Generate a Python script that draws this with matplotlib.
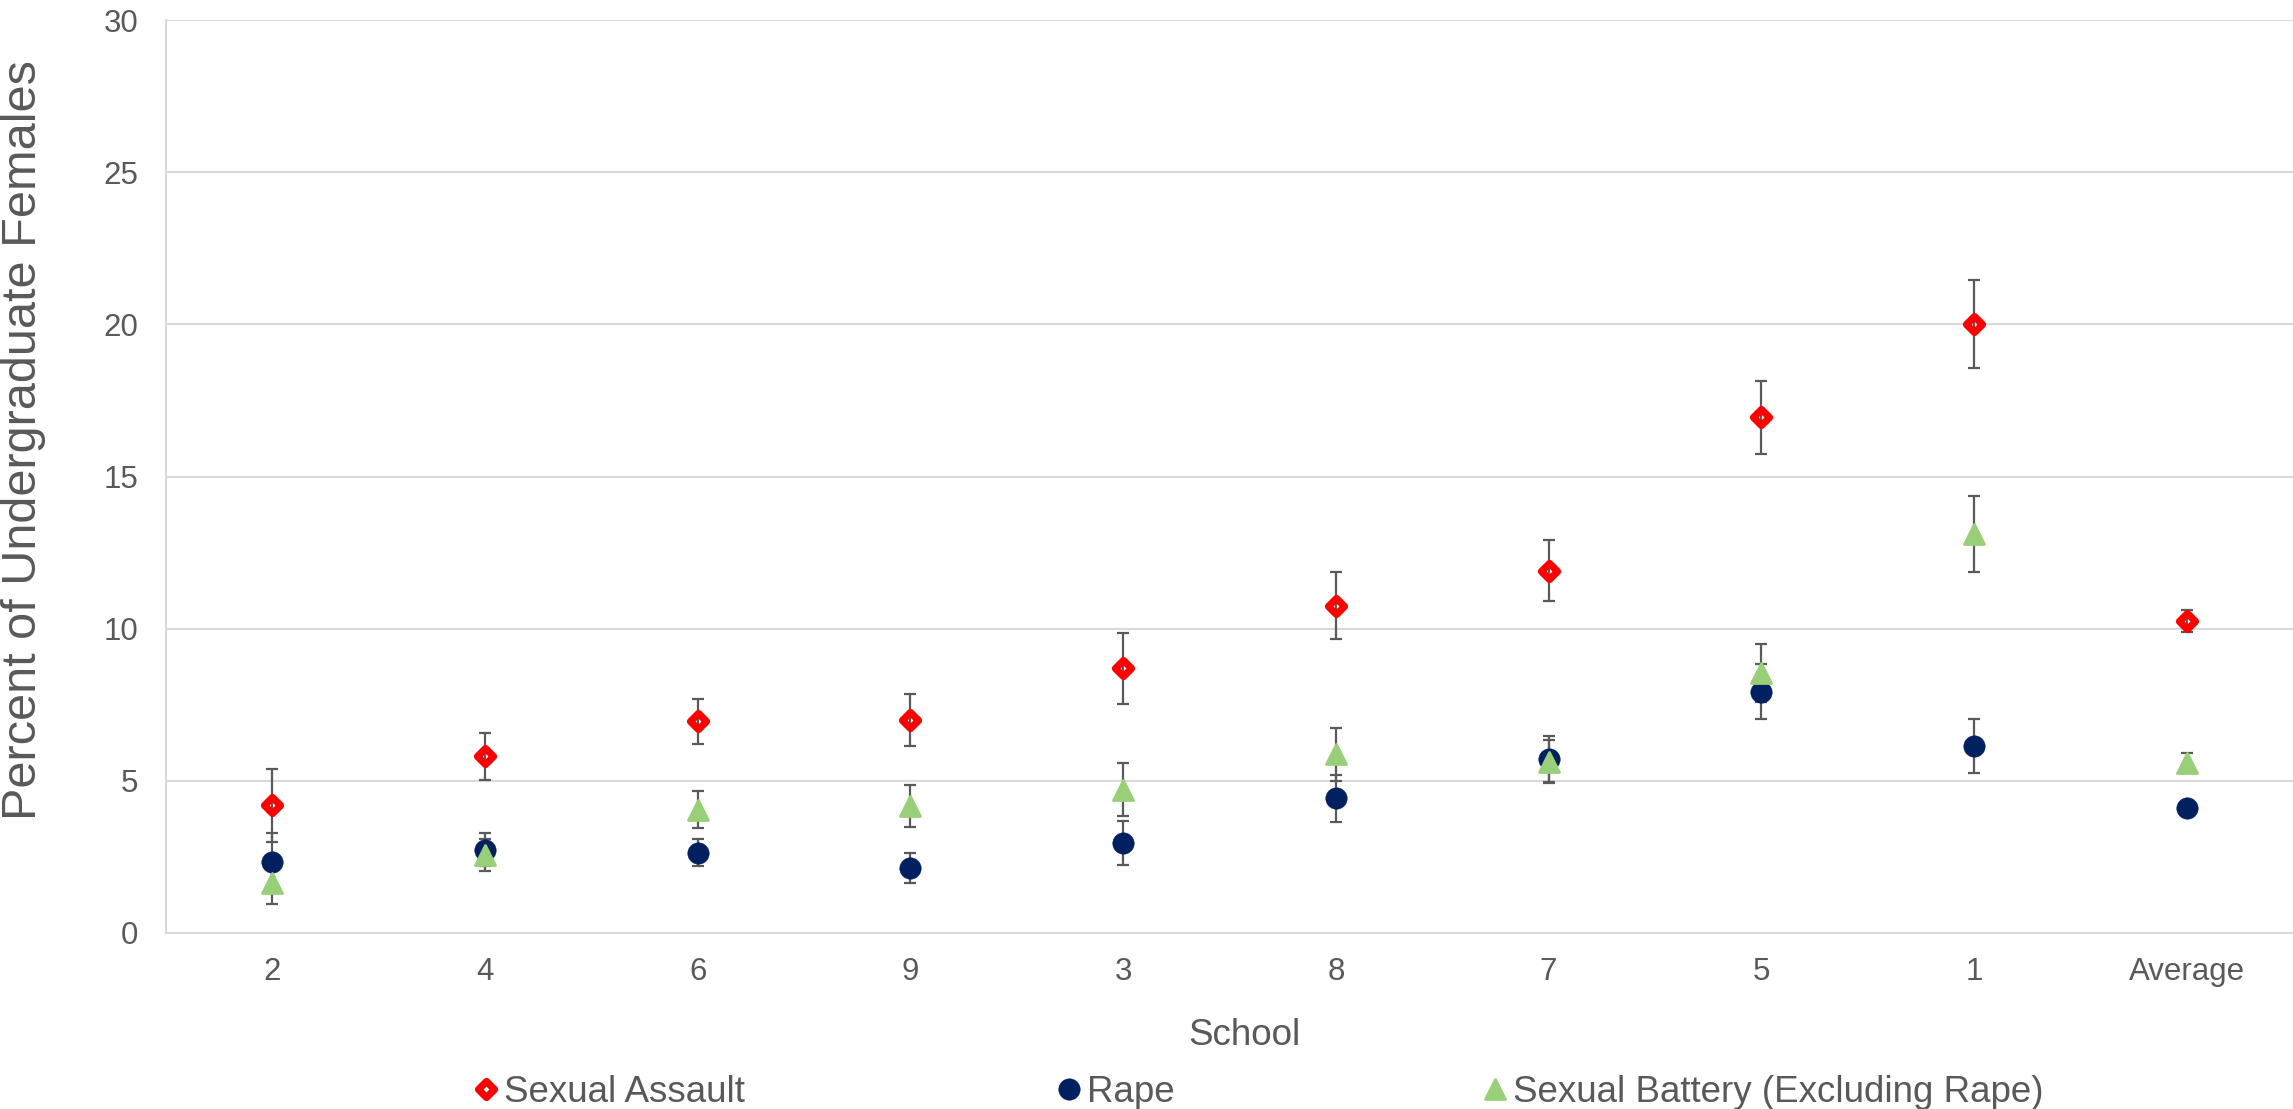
import matplotlib
matplotlib.use("Agg")
import matplotlib.pyplot as plt
from matplotlib.markers import MarkerStyle
import numpy as np

plt.rcParams["font.family"] = ["Liberation Sans", "DejaVu Sans"]

schools = ["2", "4", "6", "9", "3", "8", "7", "5", "1", "Average"]

assault = [4.2, 5.8, 6.95, 7.0, 8.7, 10.75, 11.9, 16.95, 20.0, 10.25]
assault_err = [1.2, 0.78, 0.73, 0.85, 1.17, 1.1, 1.0, 1.2, 1.45, 0.36]

rape = [2.33, 2.73, 2.64, 2.14, 2.97, 4.42, 5.72, 7.93, 6.15, 4.1]
rape_err = [0.95, 0.54, 0.44, 0.5, 0.72, 0.76, 0.75, 0.9, 0.88, 0.2]

battery = [1.65, 2.57, 4.05, 4.17, 4.7, 5.87, 5.63, 8.55, 13.12, 5.6]
battery_err = [0.7, 0.53, 0.6, 0.69, 0.87, 0.87, 0.7, 0.95, 1.25, 0.3]

TEXT = "#595959"
GRID = "#D9D9D9"
RED = "#FF0000"
NAVY = "#002060"
GREEN = "#99CF78"

fig = plt.figure(figsize=(22.93, 11.09), dpi=100)
ax = fig.add_axes([166 / 2293, 1 - 933 / 1109, 1 - 166 / 2293, 913 / 1109])

x = np.arange(len(schools))

# error bars sit underneath every marker
for vals, errs in [(assault, assault_err), (rape, rape_err), (battery, battery_err)]:
    ax.errorbar(x, vals, yerr=errs, fmt="none", ecolor="#5A5A5A",
                elinewidth=1.6, capsize=4.1, capthick=1.6, zorder=2)

diamond = MarkerStyle("D", joinstyle="round")
triangle = MarkerStyle("^", joinstyle="round")

h_sa, = ax.plot(x, assault, linestyle="none", marker=diamond, ms=7.8,
                mfc="none", mec=RED, mew=5.2, zorder=3, label="Sexual Assault")
h_rape, = ax.plot(x, rape, linestyle="none", marker="o", ms=15.5,
                  mfc=NAVY, mec=NAVY, mew=0.3, zorder=4, label="Rape")
h_bat, = ax.plot(x, battery, linestyle="none", marker=triangle, ms=13.8,
                 mfc=GREEN, mec=GREEN, mew=2, zorder=5,
                 label="Sexual Battery (Excluding Rape)")

ax.set_xlim(-0.5, len(schools) - 0.5)
ax.set_ylim(0, 30)
ax.set_yticks(range(0, 31, 5))
ax.set_xticks(x)
ax.set_xticklabels(schools)
ax.tick_params(axis="both", length=0, labelsize=22.5, labelcolor=TEXT)
ax.tick_params(axis="y", pad=20)
ax.tick_params(axis="x", pad=17)

ax.grid(axis="y", color=GRID, linewidth=1.5)
ax.set_axisbelow(True)
for side in ["top", "right"]:
    ax.spines[side].set_visible(False)
for side in ["left", "bottom"]:
    ax.spines[side].set_color(GRID)
    ax.spines[side].set_linewidth(1.5)

ax.set_xlabel("School", fontsize=26.5, color=TEXT)
ax.xaxis.set_label_coords(0.507, -0.093)
ax.set_ylabel("Percent of Undergraduate Females", fontsize=35, color=TEXT)
ax.yaxis.set_label_coords(-0.0566, 0.54)

# legend entries are spaced individually along the bottom edge
for handle, left in [(h_sa, 475), (h_rape, 1058), (h_bat, 1484)]:
    fig.legend(handles=[handle], loc="center left",
               bbox_to_anchor=(left / 2293, 1 - 1092 / 1109),
               frameon=False, fontsize=26.5, labelcolor=TEXT,
               handlelength=0.6, handletextpad=0.2,
               borderpad=0, borderaxespad=0)

fig.savefig("out.png", dpi=100)
